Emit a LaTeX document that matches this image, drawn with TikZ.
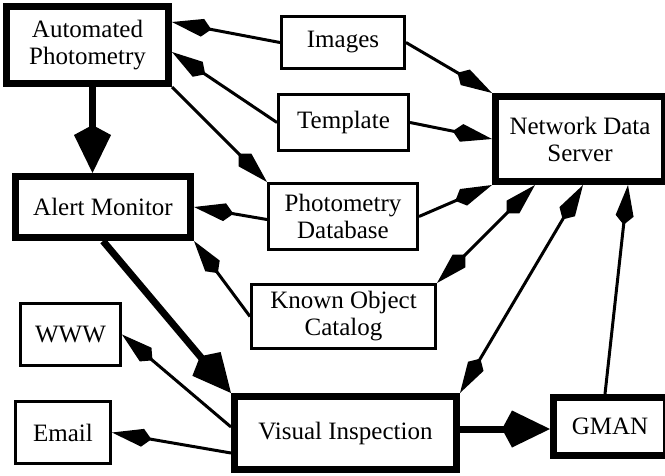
\documentclass[tikz,border=0pt]{standalone}
\usepackage{fontspec}
\setmainfont{Liberation Serif}
\usetikzlibrary{arrows.meta,calc}
\begin{document}
\begin{tikzpicture}[x=1pt,y=-1pt,
  boxbase/.style={draw, inner sep=0pt, align=center, font=\fontsize{25}{27}\selectfont},
  thinbox/.style 2 args={boxbase, line width=3pt, minimum width=#1, minimum height=#2},
  thickbox/.style 2 args={boxbase, line width=7pt, minimum width=#1, minimum height=#2},
  stip/.tip={Kite[length=40pt,width=18pt,inset=9pt,line width=0pt]},
  btip/.tip={Kite[length=48pt,width=37pt,inset=10pt,line width=0pt]},
  sarr/.style={line width=3pt, -stip},
  darr/.style={line width=3pt, stip-stip},
  barr/.style={line width=7pt, -btip}]
\useasboundingbox (0,0) rectangle (665,475);
% nodes
\node[thickbox={162pt}{77pt}] (ap) at (87.5,45) {Automated\\Photometry};
\node[thickbox={175pt}{61pt}] (am) at (103,207) {Alert Monitor};
\node[thickbox={222pt}{73pt}] (vi) at (345.5,433) {Visual Inspection};
\node[thickbox={113pt}{58pt}] (gman) at (610,426.5) {GMAN};
\node[thickbox={169pt}{85pt}] (nds) at (580,139) {Network Data\\Server};
\node[thinbox={123pt}{52pt}] (img) at (343,42.5) {Images};
\node[thinbox={130pt}{56pt}] (tpl) at (343.5,122.5) {Template};
\node[thinbox={149pt}{66pt}] (pd) at (343,216.5) {Photometry\\Database};
\node[thinbox={184pt}{64pt}] (koc) at (343.5,316.5) {Known Object\\Catalog};
\node[thinbox={100pt}{62pt}] (www) at (70.5,334.5) {WWW};
\node[thinbox={95pt}{62pt}] (email) at (63,432.5) {Email};
% connectors
\draw[sarr] (img.west) -- ([yshift=23pt]ap.east);
\draw[sarr] (tpl.west) -- ([yshift=-7pt]ap.east);
\draw[sarr] (ap.south east) -- (pd.north west);
\draw[barr] ([xshift=5pt]ap.south) -- ([xshift=5pt]ap.south |- am.north);
\draw[sarr] ([yshift=-3pt]pd.west) -- (am.east);
\draw[sarr] (koc.west) -- (am.south east);
\draw[barr] (am.south) -- (vi.north west);
\draw[sarr] ([yshift=6pt]vi.west) -- (www.east);
\draw[sarr] ([yshift=-20pt]vi.west) -- (email.east);
\draw[barr] ([yshift=4pt]vi.east) -- ([yshift=4pt]vi.east -| gman.west);
\draw[sarr] ([xshift=-5pt]gman.north) -- ([xshift=48pt]nds.south);
\draw[darr] (vi.north east) -- ([xshift=3pt]nds.south);
\draw[darr] (koc.north east) -- ([xshift=-45pt]nds.south);
\draw[sarr] (pd.east) -- (nds.south west);
\draw[sarr] (tpl.east) -- (nds.west);
\draw[sarr] (img.east) -- (nds.north west);
\end{tikzpicture}
\end{document}
